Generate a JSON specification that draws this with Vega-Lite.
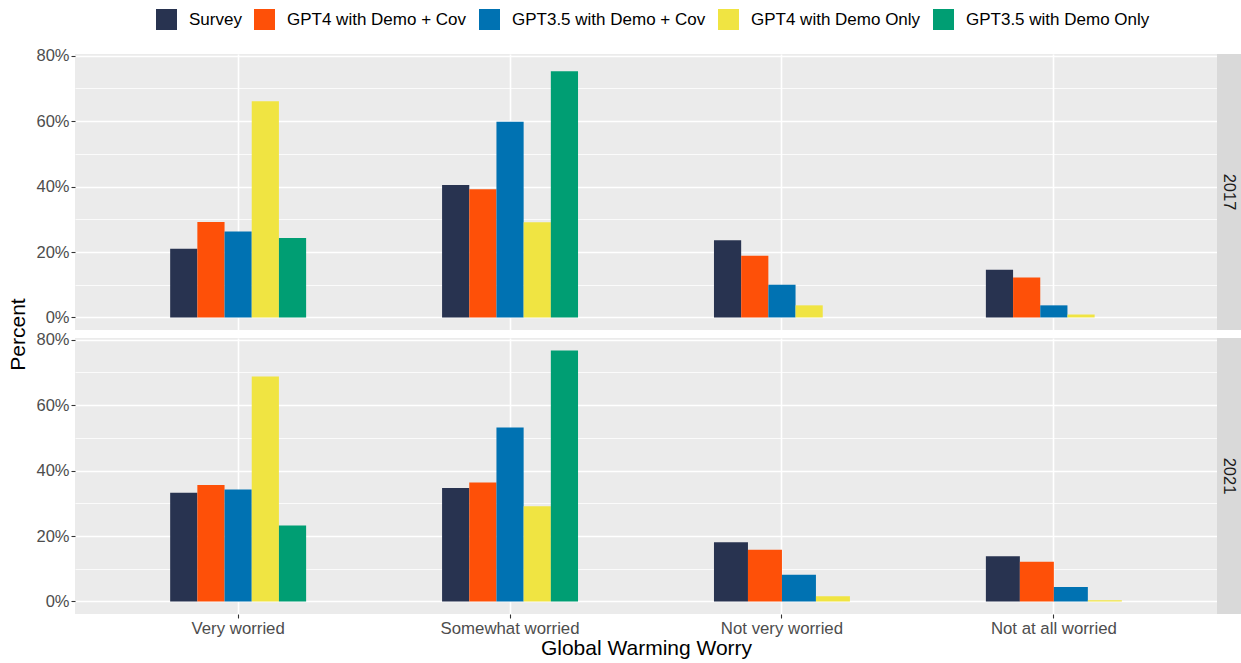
{
  "$schema": "https://vega.github.io/schema/vega-lite/v6.json",
  "padding": {"left": 7, "top": 9, "right": 0, "bottom": 0},
  "background": "white",
  "config": {
    "font": "Liberation Sans",
    "view": {"stroke": null},
    "axis": {"labelFont": "Liberation Sans", "titleFont": "Liberation Sans"}
  },
  "datasets": {
    "bars": [
      {"Year": "2017", "Worry": "Very worried", "Source": "Survey", "Percent": 0.210},
      {"Year": "2017", "Worry": "Very worried", "Source": "GPT4 with Demo + Cov", "Percent": 0.292},
      {"Year": "2017", "Worry": "Very worried", "Source": "GPT3.5 with Demo + Cov", "Percent": 0.263},
      {"Year": "2017", "Worry": "Very worried", "Source": "GPT4 with Demo Only", "Percent": 0.661},
      {"Year": "2017", "Worry": "Very worried", "Source": "GPT3.5 with Demo Only", "Percent": 0.243},
      {"Year": "2017", "Worry": "Somewhat worried", "Source": "Survey", "Percent": 0.405},
      {"Year": "2017", "Worry": "Somewhat worried", "Source": "GPT4 with Demo + Cov", "Percent": 0.392},
      {"Year": "2017", "Worry": "Somewhat worried", "Source": "GPT3.5 with Demo + Cov", "Percent": 0.598},
      {"Year": "2017", "Worry": "Somewhat worried", "Source": "GPT4 with Demo Only", "Percent": 0.291},
      {"Year": "2017", "Worry": "Somewhat worried", "Source": "GPT3.5 with Demo Only", "Percent": 0.753},
      {"Year": "2017", "Worry": "Not very worried", "Source": "Survey", "Percent": 0.236},
      {"Year": "2017", "Worry": "Not very worried", "Source": "GPT4 with Demo + Cov", "Percent": 0.189},
      {"Year": "2017", "Worry": "Not very worried", "Source": "GPT3.5 with Demo + Cov", "Percent": 0.100},
      {"Year": "2017", "Worry": "Not very worried", "Source": "GPT4 with Demo Only", "Percent": 0.037},
      {"Year": "2017", "Worry": "Not very worried", "Source": "GPT3.5 with Demo Only", "Percent": 0.0},
      {"Year": "2017", "Worry": "Not at all worried", "Source": "Survey", "Percent": 0.146},
      {"Year": "2017", "Worry": "Not at all worried", "Source": "GPT4 with Demo + Cov", "Percent": 0.122},
      {"Year": "2017", "Worry": "Not at all worried", "Source": "GPT3.5 with Demo + Cov", "Percent": 0.037},
      {"Year": "2017", "Worry": "Not at all worried", "Source": "GPT4 with Demo Only", "Percent": 0.009},
      {"Year": "2017", "Worry": "Not at all worried", "Source": "GPT3.5 with Demo Only", "Percent": 0.0},
      {"Year": "2021", "Worry": "Very worried", "Source": "Survey", "Percent": 0.332},
      {"Year": "2021", "Worry": "Very worried", "Source": "GPT4 with Demo + Cov", "Percent": 0.356},
      {"Year": "2021", "Worry": "Very worried", "Source": "GPT3.5 with Demo + Cov", "Percent": 0.342},
      {"Year": "2021", "Worry": "Very worried", "Source": "GPT4 with Demo Only", "Percent": 0.688},
      {"Year": "2021", "Worry": "Very worried", "Source": "GPT3.5 with Demo Only", "Percent": 0.232},
      {"Year": "2021", "Worry": "Somewhat worried", "Source": "Survey", "Percent": 0.347},
      {"Year": "2021", "Worry": "Somewhat worried", "Source": "GPT4 with Demo + Cov", "Percent": 0.364},
      {"Year": "2021", "Worry": "Somewhat worried", "Source": "GPT3.5 with Demo + Cov", "Percent": 0.532},
      {"Year": "2021", "Worry": "Somewhat worried", "Source": "GPT4 with Demo Only", "Percent": 0.291},
      {"Year": "2021", "Worry": "Somewhat worried", "Source": "GPT3.5 with Demo Only", "Percent": 0.767},
      {"Year": "2021", "Worry": "Not very worried", "Source": "Survey", "Percent": 0.181},
      {"Year": "2021", "Worry": "Not very worried", "Source": "GPT4 with Demo + Cov", "Percent": 0.158},
      {"Year": "2021", "Worry": "Not very worried", "Source": "GPT3.5 with Demo + Cov", "Percent": 0.082},
      {"Year": "2021", "Worry": "Not very worried", "Source": "GPT4 with Demo Only", "Percent": 0.016},
      {"Year": "2021", "Worry": "Not at all worried", "Source": "Survey", "Percent": 0.138},
      {"Year": "2021", "Worry": "Not at all worried", "Source": "GPT4 with Demo + Cov", "Percent": 0.121},
      {"Year": "2021", "Worry": "Not at all worried", "Source": "GPT3.5 with Demo + Cov", "Percent": 0.044},
      {"Year": "2021", "Worry": "Not at all worried", "Source": "GPT4 with Demo Only", "Percent": 0.004}
    ],
    "years": [{"Year": "2017"}, {"Year": "2021"}]
  },
  "columns": 2,
  "spacing": {"row": 8, "column": 0},
  "bounds": "flush",
  "concat": [
    {
      "data": {"name": "bars"},
      "transform": [{"filter": "datum.Year == '2017'"}],
      "width": 1142,
      "height": 276,
      "view": {"fill": "#EBEBEB", "stroke": null},
      "mark": {"type": "bar"},
      "encoding": {
        "x": {
          "field": "Worry", "type": "nominal",
          "scale": {"domain": ["Very worried", "Somewhat worried", "Not very worried", "Not at all worried"], "paddingInner": 0.5, "paddingOuter": 0.35},
          "axis": {"labels": false, "ticks": false, "domain": false, "title": null, "grid": true, "gridColor": "#FFFFFF", "gridWidth": 1.6, "bandPosition": 0.5}
        },
        "xOffset": {
          "field": "Source", "type": "nominal",
          "scale": {"domain": ["Survey", "GPT4 with Demo + Cov", "GPT3.5 with Demo + Cov", "GPT4 with Demo Only", "GPT3.5 with Demo Only"], "paddingInner": 0, "paddingOuter": 0}
        },
        "y": {
          "field": "Percent", "type": "quantitative",
          "scale": {"domain": [-0.03835, 0.80535], "nice": false, "zero": false},
          "axis": {
            "values": [0, 0.1, 0.2, 0.3, 0.4, 0.5, 0.6, 0.7, 0.8],
            "format": ".0%",
            "labelExpr": "round(datum.value*100) % 20 == 0 ? datum.label : ''",
            "labelFlush": false, "labelOverlap": false,
            "labelFontSize": 16.5, "labelColor": "#4D4D4D", "labelPadding": 2,
            "tickSize": 4, "tickColor": "#333333", "tickWidth": 1.1,
            "tickOpacity": {"condition": {"test": "round(datum.value*100) % 20 == 0", "value": 1}, "value": 0},
            "domain": false,
            "grid": true, "gridColor": "#FFFFFF",
            "gridWidth": {"condition": {"test": "round(datum.value*100) % 20 == 0", "value": 1.6}, "value": 0.8},
            "title": "Percent", "titleFontSize": 21, "titleColor": "#000000", "titleFontWeight": "normal",
            "titleY": 280, "titlePadding": 7
          }
        },
        "y2": {"datum": 0},
        "color": {
          "field": "Source", "type": "nominal",
          "scale": {"domain": ["Survey", "GPT4 with Demo + Cov", "GPT3.5 with Demo + Cov", "GPT4 with Demo Only", "GPT3.5 with Demo Only"], "range": ["#283350", "#FE5008", "#0072B2", "#F0E442", "#009E73"]},
          "legend": {"title": null, "orient": "none", "legendX": 81, "legendY": -45, "direction": "horizontal", "symbolType": "square", "symbolSize": 441, "symbolStrokeWidth": 0, "symbolOpacity": 1, "labelFontSize": 17, "labelColor": "#000000", "labelOffset": 12, "columnPadding": 12, "labelLimit": 0, "labelFont": "Liberation Sans"}
        }
      }
    },
    {
      "data": {"name": "years"},
      "transform": [{"filter": "datum.Year == '2017'"}],
      "width": 24,
      "height": 276,
      "view": {"fill": "#D9D9D9", "stroke": null},
      "mark": {"type": "text", "angle": 90, "fontSize": 16.5, "color": "#1A1A1A", "align": "center", "baseline": "middle", "font": "Liberation Sans"},
      "encoding": {"text": {"field": "Year", "type": "nominal"}}
    },
    {
      "data": {"name": "bars"},
      "transform": [{"filter": "datum.Year == '2021'"}],
      "width": 1142,
      "height": 276,
      "view": {"fill": "#EBEBEB", "stroke": null},
      "resolve": {"scale": {"xOffset": "independent"}},
      "encoding": {
        "x": {
          "field": "Worry", "type": "nominal",
          "scale": {"domain": ["Very worried", "Somewhat worried", "Not very worried", "Not at all worried"], "paddingInner": 0.5, "paddingOuter": 0.35},
          "axis": {"title": "Global Warming Worry", "titleFontSize": 21, "titleColor": "#000000", "titleFontWeight": "normal", "titlePadding": 1, "labelAngle": 0, "labelFontSize": 16.8, "labelColor": "#4D4D4D", "labelPadding": 2, "tickSize": 4, "tickColor": "#333333", "tickWidth": 1.1, "domain": false, "grid": true, "gridColor": "#FFFFFF", "gridWidth": 1.6, "bandPosition": 0.5}
        },
        "y": {
          "field": "Percent", "type": "quantitative",
          "scale": {"domain": [-0.03835, 0.80535], "nice": false, "zero": false},
          "axis": {
            "values": [0, 0.1, 0.2, 0.3, 0.4, 0.5, 0.6, 0.7, 0.8],
            "format": ".0%",
            "labelExpr": "round(datum.value*100) % 20 == 0 ? datum.label : ''",
            "labelFlush": false, "labelOverlap": false,
            "labelFontSize": 16.5, "labelColor": "#4D4D4D", "labelPadding": 2,
            "tickSize": 4, "tickColor": "#333333", "tickWidth": 1.1,
            "tickOpacity": {"condition": {"test": "round(datum.value*100) % 20 == 0", "value": 1}, "value": 0},
            "domain": false,
            "grid": true, "gridColor": "#FFFFFF",
            "gridWidth": {"condition": {"test": "round(datum.value*100) % 20 == 0", "value": 1.6}, "value": 0.8},
            "title": null
          }
        },
        "y2": {"datum": 0},
        "color": {
          "field": "Source", "type": "nominal",
          "scale": {"domain": ["Survey", "GPT4 with Demo + Cov", "GPT3.5 with Demo + Cov", "GPT4 with Demo Only", "GPT3.5 with Demo Only"], "range": ["#283350", "#FE5008", "#0072B2", "#F0E442", "#009E73"]},
          "legend": {"title": null, "orient": "none", "legendX": 81, "legendY": -45, "direction": "horizontal", "symbolType": "square", "symbolSize": 441, "symbolStrokeWidth": 0, "symbolOpacity": 1, "labelFontSize": 17, "labelColor": "#000000", "labelOffset": 12, "columnPadding": 12, "labelLimit": 0, "labelFont": "Liberation Sans"}
        }
      },
      "layer": [
        {
          "transform": [{"filter": "datum.Worry == 'Very worried' || datum.Worry == 'Somewhat worried'"}],
          "mark": {"type": "bar"},
          "encoding": {
            "xOffset": {
              "field": "Source", "type": "nominal",
              "scale": {"domain": ["Survey", "GPT4 with Demo + Cov", "GPT3.5 with Demo + Cov", "GPT4 with Demo Only", "GPT3.5 with Demo Only"], "paddingInner": 0, "paddingOuter": 0}
            }
          }
        },
        {
          "transform": [{"filter": "datum.Worry == 'Not very worried' || datum.Worry == 'Not at all worried'"}],
          "mark": {"type": "bar"},
          "encoding": {
            "xOffset": {
              "field": "Source", "type": "nominal",
              "scale": {"domain": ["Survey", "GPT4 with Demo + Cov", "GPT3.5 with Demo + Cov", "GPT4 with Demo Only"], "paddingInner": 0, "paddingOuter": 0}
            }
          }
        }
      ]
    },
    {
      "data": {"name": "years"},
      "transform": [{"filter": "datum.Year == '2021'"}],
      "width": 24,
      "height": 276,
      "view": {"fill": "#D9D9D9", "stroke": null},
      "mark": {"type": "text", "angle": 90, "fontSize": 16.5, "color": "#1A1A1A", "align": "center", "baseline": "middle", "font": "Liberation Sans"},
      "encoding": {"text": {"field": "Year", "type": "nominal"}}
    }
  ]
}
